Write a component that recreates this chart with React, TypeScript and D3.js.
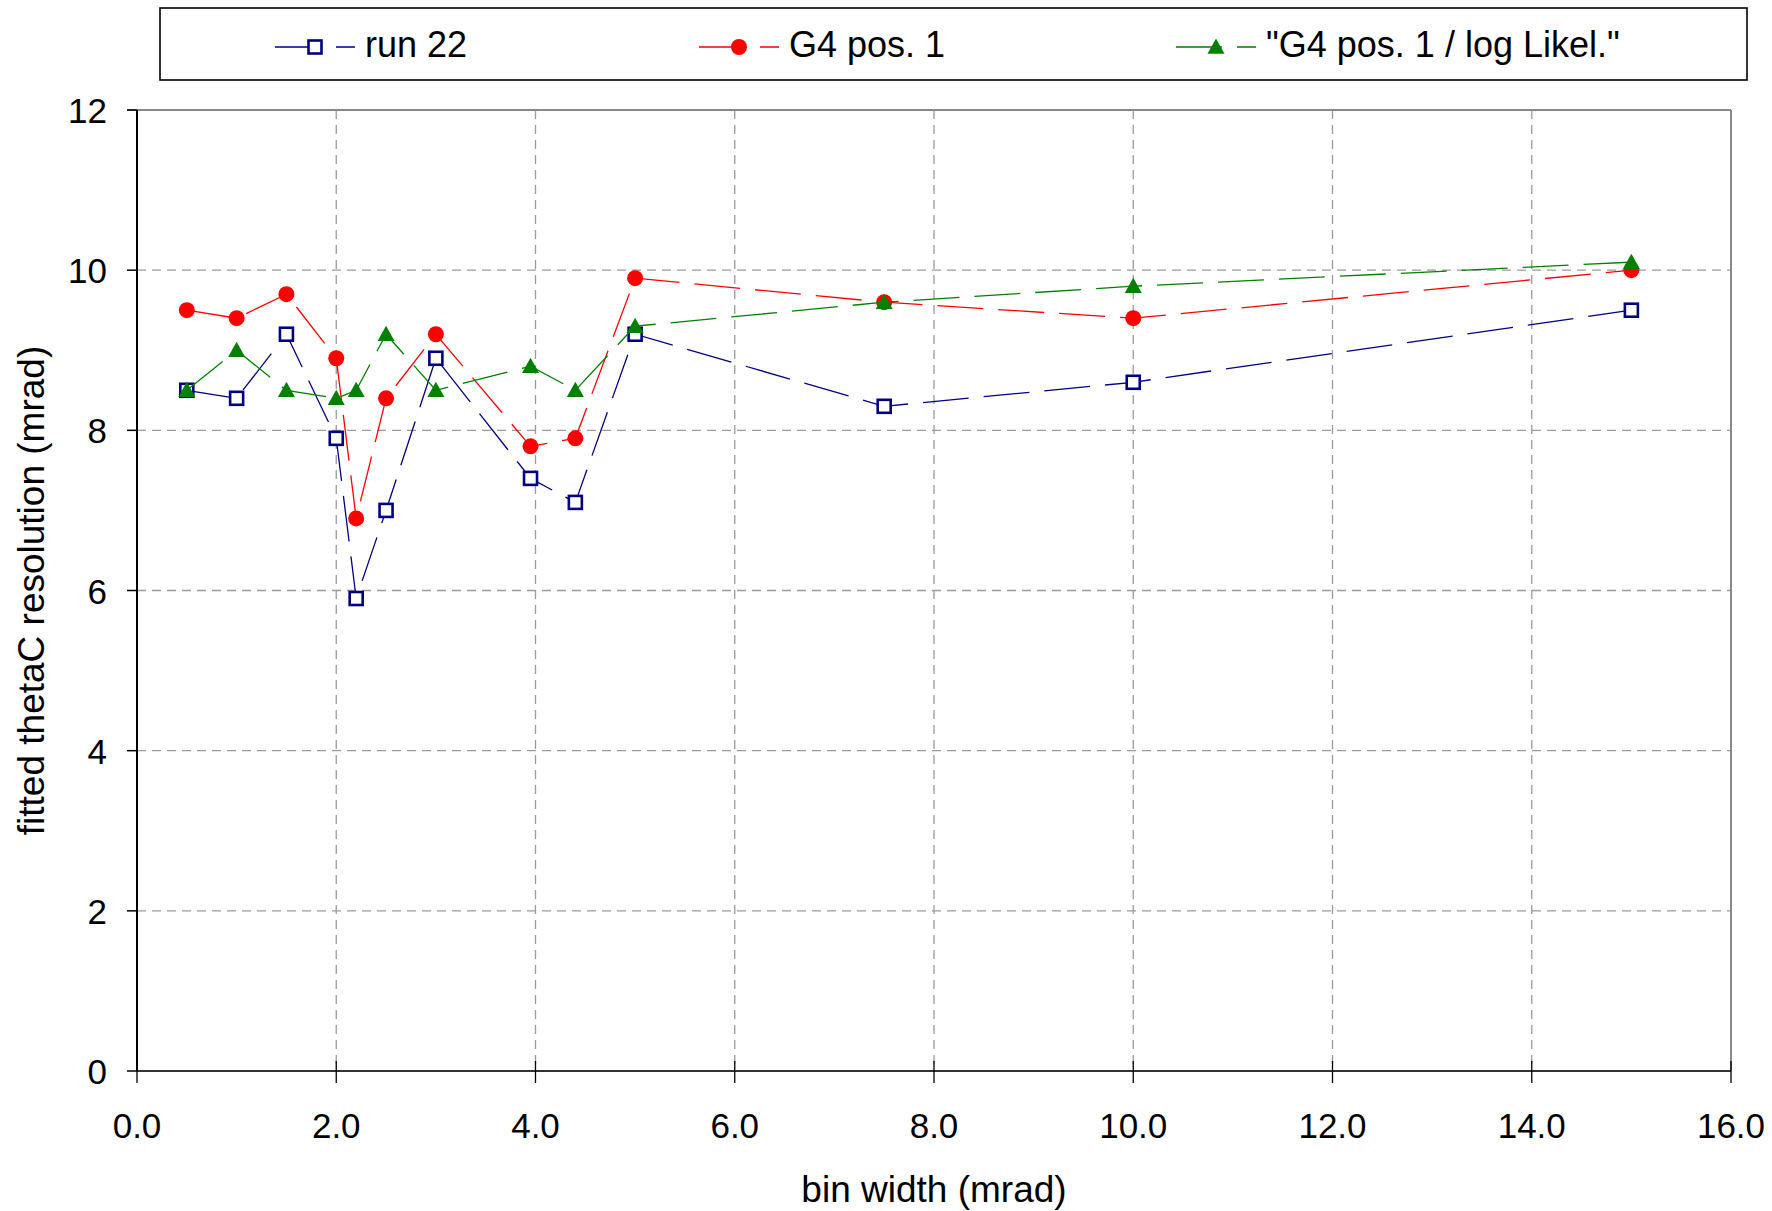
import * as d3 from 'd3';

// bin widths (mrad)
const binWidth = [0.5, 1.0, 1.5, 2.0, 2.2, 2.5, 3.0, 3.95, 4.4, 5.0, 7.5, 10.0, 15.0];

// fitted thetaC resolution (mrad)
const run22 = [8.5, 8.4, 9.2, 7.9, 5.9, 7.0, 8.9, 7.4, 7.1, 9.2, 8.3, 8.6, 9.5];
const g4pos1 = [9.5, 9.4, 9.7, 8.9, 6.9, 8.4, 9.2, 7.8, 7.9, 9.9, 9.6, 9.4, 10.0];
const g4logLik = [8.5, 9.0, 8.5, 8.4, 8.5, 9.2, 8.5, 8.8, 8.5, 9.3, 9.6, 9.8, 10.1];

const seriesNames = ['run 22', 'G4 pos. 1', '"G4 pos. 1 / log Likel."'];
const seriesColors = ['#000080', '#ff0000', '#008000'];
const seriesMarkers = ['square', 'circle', 'triangle'];

const xTicks = [0, 2, 4, 6, 8, 10, 12, 14, 16];
const yTicks = [0, 2, 4, 6, 8, 10, 12];

const W = 1772;
const H = 1211;
const left = 137;
const right = 1731;
const top = 110;
const bottom = 1071;
const font = '"Liberation Sans", Arial, sans-serif';

const Marker = ({ kind, x, y, color }: { kind: string; x: number; y: number; color: string }) => {
  if (kind === 'square') {
    return <rect x={x - 6.5} y={y - 6.5} width={13} height={13} fill="#fff" stroke={color} strokeWidth={2.6} />;
  }
  if (kind === 'circle') {
    return <circle cx={x} cy={y} r={8} fill={color} />;
  }
  const s = 8.5;
  return <path d={`M${x},${y - s}L${x + s},${y + s * 0.8}L${x - s},${y + s * 0.8}Z`} fill={color} />;
};

const App = () => {
  const xScale = d3.scaleLinear().domain([0, 16]).range([left, right]);
  const yScale = d3.scaleLinear().domain([0, 12]).range([bottom, top]);

  const allSeries = [run22, g4pos1, g4logLik];

  const line = d3
    .line<number>()
    .x((d, i) => xScale(binWidth[i]))
    .y((d) => yScale(d));

  const legendX = [275, 699, 1176];

  return (
    <svg width={W} height={H} style={{ position: 'absolute', left: 0, top: 0, background: '#fff' }} fontFamily={font}>
      <rect x={0} y={0} width={W} height={H} fill="#fff" />

      {/* grid */}
      {yTicks.filter((t) => t > 0 && t < 12).map((t) => (
        <line key={'gy' + t} x1={left} x2={right} y1={yScale(t)} y2={yScale(t)} stroke="#9a9a9a" strokeWidth={1.3} strokeDasharray="9,6" />
      ))}
      {xTicks.filter((t) => t > 0 && t < 16).map((t) => (
        <line key={'gx' + t} x1={xScale(t)} x2={xScale(t)} y1={top} y2={bottom} stroke="#9a9a9a" strokeWidth={1.3} strokeDasharray="9,6" />
      ))}

      {/* plot frame */}
      <line x1={left - 10} x2={right} y1={top} y2={top} stroke="#888" strokeWidth={2} />
      <line x1={right} x2={right} y1={top} y2={bottom} stroke="#888" strokeWidth={2} />

      {/* axes */}
      <line x1={left} x2={left} y1={top} y2={bottom} stroke="#000" strokeWidth={2} />
      <line x1={left} x2={right} y1={bottom} y2={bottom} stroke="#333" strokeWidth={2} />
      {yTicks.map((t) => (
        <g key={'yt' + t}>
          <line x1={left - 10} x2={left} y1={yScale(t)} y2={yScale(t)} stroke="#000" strokeWidth={1.5} />
          <text x={left - 30} y={yScale(t) + 13} textAnchor="end" fontSize={35}>{t}</text>
        </g>
      ))}
      {xTicks.map((t) => (
        <g key={'xt' + t}>
          <line x1={xScale(t)} x2={xScale(t)} y1={bottom - 10} y2={bottom + 12} stroke="#000" strokeWidth={1.3} />
          <text x={xScale(t)} y={1138} textAnchor="middle" fontSize={35}>{t.toFixed(1)}</text>
        </g>
      ))}

      <text x={(left + right) / 2} y={1202} textAnchor="middle" fontSize={37}>bin width (mrad)</text>
      <text transform={`translate(44, ${(top + bottom) / 2}) rotate(-90)`} textAnchor="middle" fontSize={37}>
        fitted thetaC resolution (mrad)
      </text>

      {/* series */}
      {allSeries.map((vals, si) => (
        <g key={'s' + si}>
          <path d={line(vals) || ''} fill="none" stroke={seriesColors[si]} strokeWidth={1.3} strokeDasharray="46,15" />
          {vals.map((v, i) => (
            <Marker key={i} kind={seriesMarkers[si]} x={xScale(binWidth[i])} y={yScale(v)} color={seriesColors[si]} />
          ))}
        </g>
      ))}

      {/* legend */}
      <rect x={160} y={8} width={1587} height={72} fill="#fff" stroke="#000" strokeWidth={1.6} />
      {seriesNames.map((name, si) => (
        <g key={'lg' + si}>
          <line x1={legendX[si]} x2={legendX[si] + 80} y1={47} y2={47} stroke={seriesColors[si]} strokeWidth={1.3} strokeDasharray="46,15" />
          <Marker kind={seriesMarkers[si]} x={legendX[si] + 40} y={47} color={seriesColors[si]} />
          <text x={legendX[si] + 90} y={57} fontSize={36}>{name}</text>
        </g>
      ))}
    </svg>
  );
};

export default App;
